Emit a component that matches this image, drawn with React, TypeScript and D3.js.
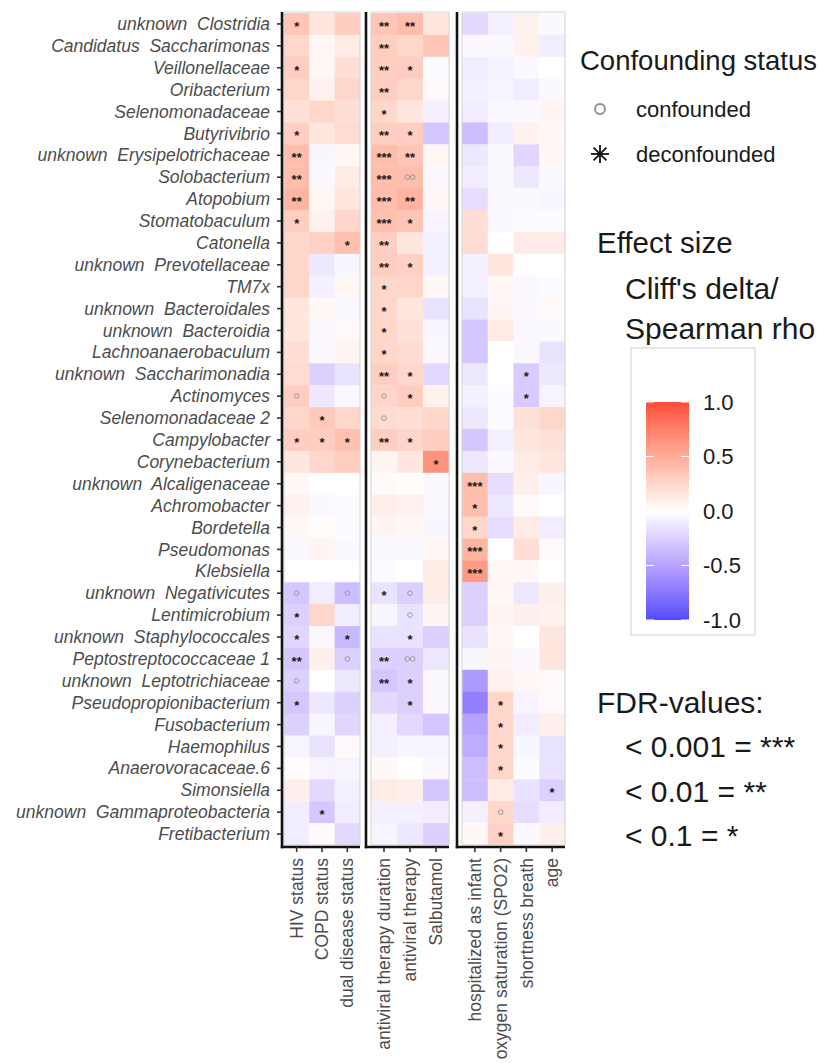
import React from 'react';
import * as d3 from 'd3';

const W = 820;
const H = 1063;

const taxa = [
  'unknown  Clostridia', 'Candidatus  Saccharimonas', 'Veillonellaceae', 'Oribacterium',
  'Selenomonadaceae', 'Butyrivibrio', 'unknown  Erysipelotrichaceae', 'Solobacterium',
  'Atopobium', 'Stomatobaculum', 'Catonella', 'unknown  Prevotellaceae', 'TM7x',
  'unknown  Bacteroidales', 'unknown  Bacteroidia', 'Lachnoanaerobaculum',
  'unknown  Saccharimonadia', 'Actinomyces', 'Selenomonadaceae 2', 'Campylobacter',
  'Corynebacterium', 'unknown  Alcaligenaceae', 'Achromobacter', 'Bordetella',
  'Pseudomonas', 'Klebsiella', 'unknown  Negativicutes', 'Lentimicrobium',
  'unknown  Staphylococcales', 'Peptostreptococcaceae 1', 'unknown  Leptotrichiaceae',
  'Pseudopropionibacterium', 'Fusobacterium', 'Haemophilus', 'Anaerovoracaceae.6',
  'Simonsiella', 'unknown  Gammaproteobacteria', 'Fretibacterium'
];

const panelVars = [
  ['HIV status', 'COPD status', 'dual disease status'],
  ['antiviral therapy duration', 'antiviral therapy', 'Salbutamol'],
  ['hospitalized as infant', 'oxygen saturation (SPO2)', 'shortness breath', 'age']
];

// effect sizes (Cliff's delta / Spearman rho), one array per variable, rows in taxa order
const hivStatus = [0.35, 0.25, 0.3, 0.25, 0.18, 0.3, 0.4, 0.4, 0.45, 0.3, 0.25, 0.25, 0.25, 0.15, 0.15, 0.2, 0.22, 0.3, 0.25, 0.3, 0.15, 0.04, 0.08, 0.04, -0.03, 0.0, -0.3, -0.25, -0.22, -0.3, -0.25, -0.3, -0.25, -0.06, 0.02, 0.1, -0.1, -0.1];
const copdStatus = [0.15, 0.05, 0.05, 0.08, 0.25, 0.15, -0.05, -0.03, 0.05, 0.08, 0.28, -0.12, -0.08, 0.04, -0.04, -0.03, -0.25, -0.12, 0.32, 0.3, 0.25, 0.0, -0.03, 0.02, 0.06, 0.0, -0.1, 0.25, -0.04, 0.1, 0.0, -0.12, -0.05, -0.15, -0.06, -0.2, -0.3, 0.03];
const dualDisease = [0.3, 0.12, 0.2, 0.25, 0.2, 0.22, 0.05, 0.12, 0.15, 0.25, 0.38, -0.05, 0.05, -0.03, 0.03, 0.06, -0.15, -0.03, 0.25, 0.38, 0.3, 0.0, -0.02, -0.02, -0.03, 0.0, -0.35, -0.1, -0.38, -0.25, -0.12, -0.25, -0.22, 0.03, -0.06, -0.08, -0.1, -0.2];
const avDuration = [0.35, 0.3, 0.3, 0.3, 0.25, 0.3, 0.4, 0.4, 0.4, 0.38, 0.3, 0.3, 0.25, 0.25, 0.25, 0.25, 0.3, 0.25, 0.22, 0.3, 0.06, 0.03, 0.1, 0.06, -0.03, -0.02, -0.15, -0.05, -0.15, -0.25, -0.3, -0.2, -0.08, -0.08, 0.04, 0.12, -0.08, -0.06];
const avTherapy = [0.4, 0.25, 0.3, 0.25, 0.15, 0.3, 0.35, 0.4, 0.45, 0.35, 0.15, 0.28, 0.25, 0.15, 0.18, 0.22, 0.25, 0.3, 0.2, 0.25, 0.15, 0.02, 0.08, 0.04, -0.04, 0.0, -0.25, -0.15, -0.15, -0.25, -0.25, -0.25, -0.2, -0.05, 0.0, 0.1, -0.08, -0.12];
const salbutamol = [0.15, 0.35, -0.02, 0.03, -0.08, -0.3, 0.05, -0.04, 0.04, -0.06, -0.08, -0.08, 0.04, -0.15, -0.05, -0.04, -0.2, 0.08, 0.25, 0.3, 0.65, -0.03, -0.04, -0.05, 0.04, 0.12, 0.12, 0.06, -0.25, -0.12, -0.04, -0.04, -0.3, -0.06, -0.04, -0.3, -0.1, -0.25];
const hospInfant = [-0.2, -0.03, -0.1, -0.08, -0.1, -0.35, -0.12, -0.1, -0.18, 0.2, 0.22, -0.08, -0.08, -0.15, -0.3, -0.3, -0.12, -0.08, -0.12, -0.3, -0.12, 0.4, 0.4, 0.25, 0.45, 0.6, -0.25, -0.25, -0.15, -0.05, -0.55, -0.7, -0.5, -0.45, -0.35, -0.35, -0.08, 0.04];
const oxygenSat = [-0.08, -0.03, -0.07, -0.06, -0.03, -0.1, -0.03, -0.03, -0.03, -0.04, 0.0, 0.15, 0.04, 0.06, 0.12, 0.0, 0.0, -0.02, -0.02, -0.08, -0.03, -0.18, -0.12, -0.18, 0.0, 0.04, 0.04, 0.06, 0.05, 0.06, 0.08, 0.25, 0.25, 0.25, 0.25, 0.12, 0.25, 0.28];
const shortBreath = [0.08, 0.08, -0.03, -0.1, -0.03, 0.08, -0.22, -0.12, -0.03, -0.02, 0.12, 0.0, -0.04, -0.03, -0.04, -0.04, -0.28, -0.28, 0.18, 0.15, 0.12, 0.1, 0.03, 0.12, 0.2, 0.04, -0.12, 0.1, 0.0, -0.03, 0.04, -0.06, -0.1, -0.05, -0.02, -0.15, -0.18, -0.03];
const age = [-0.03, -0.1, 0.0, -0.03, 0.06, 0.04, 0.05, -0.04, -0.05, -0.02, 0.12, 0.0, -0.02, 0.03, -0.03, -0.15, -0.12, -0.06, 0.25, 0.18, 0.15, -0.05, 0.0, -0.1, 0.03, 0.0, 0.1, 0.08, 0.15, 0.15, 0.03, 0.03, 0.1, -0.15, -0.15, -0.25, -0.1, 0.1];

// FDR marks: '*' deconfounded, 'o' confounded, by row index
const hivSig: Record<number, string> = { 0: '*', 2: '*', 5: '*', 6: '**', 7: '**', 8: '**', 9: '*', 17: 'o', 19: '*', 26: 'o', 27: '*', 28: '*', 29: '**', 30: 'o', 31: '*' };
const copdSig: Record<number, string> = { 18: '*', 19: '*', 36: '*' };
const dualSig: Record<number, string> = { 10: '*', 19: '*', 26: 'o', 28: '*', 29: 'o' };
const avDurationSig: Record<number, string> = { 0: '**', 1: '**', 2: '**', 3: '**', 4: '*', 5: '**', 6: '***', 7: '***', 8: '***', 9: '***', 10: '**', 11: '**', 12: '*', 13: '*', 14: '*', 15: '*', 16: '**', 17: 'o', 18: 'o', 19: '**', 26: '*', 29: '**', 30: '**' };
const avTherapySig: Record<number, string> = { 0: '**', 2: '*', 5: '*', 6: '**', 7: 'oo', 8: '**', 9: '*', 11: '*', 16: '*', 17: '*', 19: '*', 26: 'o', 27: 'o', 28: '*', 29: 'oo', 30: '*', 31: '*' };
const salbutamolSig: Record<number, string> = { 20: '*' };
const hospSig: Record<number, string> = { 21: '***', 22: '*', 23: '*', 24: '***', 25: '***' };
const oxygenSig: Record<number, string> = { 31: '*', 32: '*', 33: '*', 34: '*', 36: 'o', 37: '*' };
const shortSig: Record<number, string> = { 16: '*', 17: '*' };
const ageSig: Record<number, string> = { 35: '*' };

const effects: Record<string, number[]> = {
  'HIV status': hivStatus, 'COPD status': copdStatus, 'dual disease status': dualDisease,
  'antiviral therapy duration': avDuration, 'antiviral therapy': avTherapy, 'Salbutamol': salbutamol,
  'hospitalized as infant': hospInfant, 'oxygen saturation (SPO2)': oxygenSat,
  'shortness breath': shortBreath, 'age': age
};
const marks: Record<string, Record<number, string>> = {
  'HIV status': hivSig, 'COPD status': copdSig, 'dual disease status': dualSig,
  'antiviral therapy duration': avDurationSig, 'antiviral therapy': avTherapySig, 'Salbutamol': salbutamolSig,
  'hospitalized as infant': hospSig, 'oxygen saturation (SPO2)': oxygenSig,
  'shortness breath': shortSig, 'age': ageSig
};

const font = '"Liberation Sans", Arial, Helvetica, sans-serif';
const top = 13;
const bottom = 845;
const panelRange = [[284, 360], [371, 449], [462, 565]];
const axisX = [282, 366, 457];
const axisY = 847;

const fill = d3.scaleLinear<string>()
  .domain([-1, 0, 1])
  .range(['#4d4dff', '#ffffff', '#ff4a3a'])
  .interpolate(d3.interpolateLab);

const y = d3.scaleBand().domain(taxa).range([top, bottom]);

function Mark({ cx, cy, code }: { cx: number; cy: number; code: string }) {
  if (!code) return null;
  if (code[0] === 'o') {
    const n = code.length;
    return (
      <g>
        {d3.range(n).map(i => (
          <circle key={i} cx={cx + (i - (n - 1) / 2) * 5.5} cy={cy} r={2.3}
            fill="none" stroke="#9a9a9a" strokeWidth={1} />
        ))}
      </g>
    );
  }
  return (
    <text x={cx} y={cy + 7} textAnchor="middle" fontSize={13} fill="#1a1a1a"
      fontFamily={font} fontWeight="bold">{code}</text>
  );
}

function Panel({ vars, range, ax }: { vars: string[]; range: number[]; ax: number }) {
  const x = d3.scaleBand().domain(vars).range(range as [number, number]);
  return (
    <g>
      {vars.map(v => taxa.map((t, i) => (
        <rect key={v + t} x={x(v)} y={y(t)} width={x.bandwidth() + 0.3}
          height={y.bandwidth() + 0.3} fill={fill(effects[v][i])} />
      )))}
      {vars.map(v => taxa.map((t, i) => (
        <Mark key={'m' + v + t} cx={x(v)! + x.bandwidth() / 2}
          cy={y(t)! + y.bandwidth() / 2} code={marks[v][i] || ''} />
      )))}
      <rect x={range[0]} y={top - 1} width={range[1] - range[0]} height={bottom - top + 1}
        fill="none" stroke="#d4d4d4" strokeWidth={1} />
      <line x1={ax} x2={ax} y1={top - 1} y2={axisY + 1.2} stroke="#111" strokeWidth={2.6} />
      <line x1={ax - 1.2} x2={range[1]} y1={axisY} y2={axisY} stroke="#111" strokeWidth={2.6} />
      {vars.map(v => {
        const cx = x(v)! + x.bandwidth() / 2;
        return (
          <g key={'t' + v}>
            <line x1={cx} x2={cx} y1={axisY} y2={axisY + 5} stroke="#333" strokeWidth={1.6} />
            <text transform={`translate(${cx},${axisY + 11}) rotate(-90)`} textAnchor="end"
              dy="0.35em" fontSize={17.5} fill="#4d4d4d" fontFamily={font}>{v}</text>
          </g>
        );
      })}
    </g>
  );
}

function Legend() {
  const ly = d3.scaleLinear().domain([-1, 1]).range([620, 402]);
  const stops = d3.range(0, 1.0001, 0.05);
  return (
    <g fontFamily={font}>
      <defs>
        <linearGradient id="effgrad" x1="0" y1="1" x2="0" y2="0">
          {stops.map(s => (
            <stop key={s} offset={s} stopColor={fill(-1 + 2 * s)} />
          ))}
        </linearGradient>
      </defs>
      <text x={580} y={70} fontSize={27.5} fill="#1a1a1a">Confounding status</text>
      <circle cx={600} cy={109} r={5} fill="none" stroke="#8c8c8c" strokeWidth={1.8} />
      <text x={636} y={117} fontSize={22} fill="#1a1a1a">confounded</text>
      <g stroke="#111" strokeWidth={1.8}>
        <line x1={600} x2={600} y1={145} y2={163} />
        <line x1={591} x2={609} y1={154} y2={154} />
        <line x1={593.6} x2={606.4} y1={147.6} y2={160.4} />
        <line x1={593.6} x2={606.4} y1={160.4} y2={147.6} />
      </g>
      <text x={636} y={162} fontSize={22} fill="#1a1a1a">deconfounded</text>

      <text x={597} y={253} fontSize={29.5} fill="#1a1a1a">Effect size</text>
      <text x={625} y={299} fontSize={30} fill="#1a1a1a">Cliff's delta/</text>
      <text x={625} y={339} fontSize={30} fill="#1a1a1a">Spearman rho</text>
      <rect x={631} y={348} width={124} height={287} fill="none" stroke="#cfcfcf" strokeWidth={1} />
      <rect x={646} y={ly(1)} width={43} height={ly(-1) - ly(1)} fill="url(#effgrad)" />
      {[-1, -0.5, 0, 0.5, 1].map(v => (
        <g key={v}>
          <line x1={646} x2={654} y1={ly(v)} y2={ly(v)} stroke="#fff" strokeWidth={1} />
          <line x1={681} x2={689} y1={ly(v)} y2={ly(v)} stroke="#fff" strokeWidth={1} />
          <text x={703} y={ly(v)} dy="0.36em" fontSize={22} fill="#1a1a1a">{v.toFixed(1)}</text>
        </g>
      ))}

      <text x={597} y={713} fontSize={30} fill="#1a1a1a">FDR-values:</text>
      <text x={625} y={757} fontSize={30} fill="#1a1a1a">{'< 0.001 = ***'}</text>
      <text x={625} y={802} fontSize={30} fill="#1a1a1a">{'< 0.01 = **'}</text>
      <text x={625} y={846} fontSize={30} fill="#1a1a1a">{'< 0.1 = *'}</text>
    </g>
  );
}

export default function App() {
  return (
    <svg width={W} height={H} style={{ position: 'absolute', left: 0, top: 0, background: '#fff' }}>
      <rect width={W} height={H} fill="#fff" />
      {taxa.map(t => {
        const cy = y(t)! + y.bandwidth() / 2;
        return (
          <g key={'r' + t}>
            <line x1={277} x2={282} y1={cy} y2={cy} stroke="#333" strokeWidth={1.6} />
            <text x={270} y={cy} dy="0.35em" textAnchor="end" fontSize={17.5} fontStyle="italic"
              fill="#4d4d4d" fontFamily={font} style={{ whiteSpace: 'pre' }}>{t}</text>
          </g>
        );
      })}
      {panelVars.map((vars, i) => (
        <Panel key={i} vars={vars} range={panelRange[i]} ax={axisX[i]} />
      ))}
      <Legend />
    </svg>
  );
}
